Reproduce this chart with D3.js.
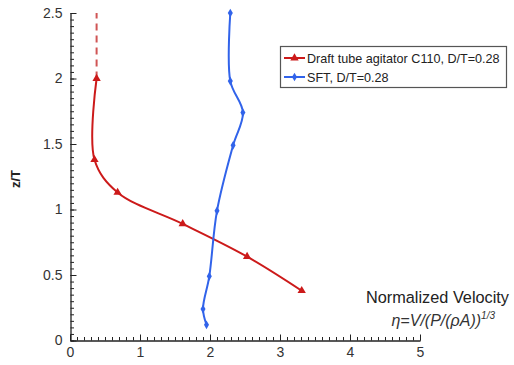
<!DOCTYPE html>
<html><head><meta charset="utf-8">
<script src="https://cdn.jsdelivr.net/npm/d3@7"></script>
<style>body{margin:0;background:#fff;} text{font-family:"Liberation Sans",Arial,sans-serif;}</style>
</head><body>
<svg id="c" width="514" height="365"></svg>
<script>
const draftZ = [2.0, 1.38, 1.13, 0.89, 0.64, 0.38];
const draftV = [0.38, 0.35, 0.68, 1.61, 2.53, 3.31];
const draftExtZ = [2.0, 2.5];
const draftExtV = [0.38, 0.38];
const sftZ = [2.5, 1.98, 1.74, 1.49, 0.99, 0.49, 0.24, 0.12];
const sftV = [2.29, 2.29, 2.47, 2.33, 2.10, 1.99, 1.90, 1.95];
const xTicks = [0, 1, 2, 3, 4, 5];
const yTicks = [0, 0.5, 1, 1.5, 2, 2.5];
const xMinor = d3.range(0, 51).map(i => i / 10);
const yMinor = d3.range(0, 51).map(i => i / 20);
const seriesNames = ["Draft tube agitator C110, D/T=0.28", "SFT, D/T=0.28"];

const svg = d3.select("#c");
const x = d3.scaleLinear().domain([0, 5]).range([70, 420]);
const y = d3.scaleLinear().domain([0, 2.5]).range([340.5, 13]);
const red = "#cc1a1a", blue = "#3163ea";

// minor ticks
svg.append("g").attr("transform", "translate(0,340.5)")
  .call(d3.axisBottom(x).tickValues(xMinor).tickSize(-3.5).tickFormat(""))
  .call(g => g.select(".domain").remove())
  .call(g => g.selectAll("line").attr("stroke", "#222"));
svg.append("g").attr("transform", "translate(70.5,0)")
  .call(d3.axisLeft(y).tickValues(yMinor).tickSize(-3.5).tickFormat(""))
  .call(g => g.select(".domain").remove())
  .call(g => g.selectAll("line").attr("stroke", "#222"));

// major axes
svg.append("g").attr("transform", "translate(0,340.5)")
  .call(d3.axisBottom(x).tickValues(xTicks).tickSize(-6).tickSizeOuter(0).tickPadding(7).tickFormat(d3.format("")))
  .call(g => g.select(".domain").attr("stroke", "#222").attr("stroke-width", 1.3))
  .call(g => g.selectAll("line").attr("stroke", "#222"))
  .call(g => g.selectAll("text").attr("font-size", 14).attr("fill", "#333").attr("font-family", "Liberation Sans, Arial, sans-serif"));
svg.append("g").attr("transform", "translate(70.5,0)")
  .call(d3.axisLeft(y).tickValues(yTicks).tickSize(-6).tickSizeOuter(0).tickPadding(8).tickFormat(d3.format("")))
  .call(g => g.select(".domain").attr("stroke", "#222").attr("stroke-width", 1.3))
  .call(g => g.selectAll("line").attr("stroke", "#222"))
  .call(g => g.selectAll("text").attr("font-size", 14).attr("fill", "#333").attr("font-family", "Liberation Sans, Arial, sans-serif"));

svg.append("text").attr("transform", "translate(20,179) rotate(-90)")
  .attr("text-anchor", "middle").attr("font-size", 13).attr("font-weight", "bold")
  .attr("fill", "#222").text("z/T");

// lines
const line = d3.line().x(d => x(d[0])).y(d => y(d[1])).curve(d3.curveCatmullRom.alpha(0.5));
const draft = draftV.map((v, i) => [v, draftZ[i]]);
const sft = sftV.map((v, i) => [v, sftZ[i]]);
const ext = draftExtV.map((v, i) => [v, draftExtZ[i]]);

svg.append("path").attr("d", d3.line().x(d => x(d[0])).y(d => y(d[1]))(ext))
  .attr("fill", "none").attr("stroke", "#d05555").attr("stroke-width", 2).attr("stroke-dasharray", "7,5");
svg.append("path").attr("d", line(draft)).attr("fill", "none").attr("stroke", red).attr("stroke-width", 2);
svg.append("path").attr("d", line(sft)).attr("fill", "none").attr("stroke", blue).attr("stroke-width", 2);

const tri = d3.symbol().type(d3.symbolTriangle).size(30);
const dia = d3.symbol().type(d3.symbolDiamond).size(22);
svg.selectAll("path.rt").data(draft).join("path").attr("class", "rt")
  .attr("transform", d => `translate(${x(d[0])},${y(d[1])})`).attr("d", tri).attr("fill", red);
svg.selectAll("path.bd").data(sft).join("path").attr("class", "bd")
  .attr("transform", d => `translate(${x(d[0])},${y(d[1])})`).attr("d", dia).attr("fill", blue);

// legend
const lg = svg.append("g");
lg.append("rect").attr("x", 280.5).attr("y", 46.5).attr("width", 226).attr("height", 41)
  .attr("fill", "#fff").attr("stroke", "#555").attr("stroke-width", 1.2);
[[red, tri, 58], [blue, dia, 77]].forEach(([c, s, yy], i) => {
  lg.append("line").attr("x1", 284).attr("x2", 305).attr("y1", yy).attr("y2", yy).attr("stroke", c).attr("stroke-width", 2);
  lg.append("path").attr("transform", `translate(294.5,${yy})`).attr("d", s).attr("fill", c);
  lg.append("text").attr("x", 307).attr("y", yy + 4.5).attr("font-size", 12.6).attr("fill", "#222").text(seriesNames[i]);
});

// x label
svg.append("text").attr("x", 509).attr("y", 303).attr("text-anchor", "end")
  .attr("font-size", 16.3).attr("fill", "#222").text("Normalized Velocity");
const t2 = svg.append("text").attr("x", 495).attr("y", 326).attr("text-anchor", "end")
  .attr("font-size", 16).attr("font-style", "italic").attr("fill", "#333");
t2.append("tspan").text("η=V/(P/(ρA))");
t2.append("tspan").attr("dy", -7).attr("font-size", 10).text("1/3");
</script>
</body></html>
